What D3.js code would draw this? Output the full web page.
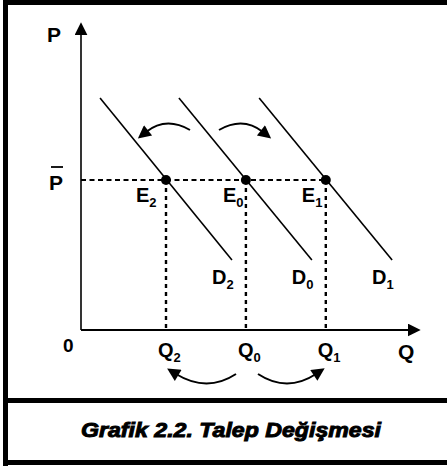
<!DOCTYPE html>
<html>
<head>
<meta charset="utf-8">
<script src="https://cdn.jsdelivr.net/npm/d3@7"></script>
<style>
  body { margin: 0; background: #fff; }
  text { font-family: "Liberation Sans", Arial, sans-serif; font-weight: bold; fill: #000; }
</style>
</head>
<body>
<svg width="447" height="466"></svg>
<script>
// chart data (abstract units, 0..100 on both axes)
var curveNames = ["D2", "D0", "D1"];
var curveStart = [[5.6, 75.3], [28.8, 75.3], [52.4, 75.3]];
var curveEnd = [[44.4, 22.7], [67.9, 22.7], [91.5, 22.7]];
var pointNames = ["E2", "E0", "E1"];
var qNames = ["Q2", "Q0", "Q1"];
var qValues = [25, 48.5, 72];
var pBar = 48.7;
var caption = "Grafik 2.2. Talep Değişmesi";

var svg = d3.select("svg");

// scales
var x = d3.scaleLinear().domain([0, 100]).range([81, 421]);
var y = d3.scaleLinear().domain([0, 100]).range([330, 22]);

// frame
svg.append("path")
  .attr("d", "M5.5,2.5 H447 M5.5,0 V466 M3,400.5 H447 M3,462.5 H447")
  .attr("stroke", "#000").attr("stroke-width", 5).attr("fill", "none");

// arrow markers
var defs = svg.append("defs");
defs.append("marker")
  .attr("id", "axhead").attr("viewBox", "0 0 10 10")
  .attr("refX", 1).attr("refY", 5).attr("markerWidth", 13).attr("markerHeight", 13)
  .attr("markerUnits", "userSpaceOnUse").attr("orient", "auto")
  .append("path").attr("d", "M0,0 L10,5 L0,10 Z").attr("fill", "#000");
defs.append("marker")
  .attr("id", "arc").attr("viewBox", "0 0 10 10")
  .attr("refX", 2).attr("refY", 5).attr("markerWidth", 15).attr("markerHeight", 13)
  .attr("markerUnits", "userSpaceOnUse").attr("orient", "auto")
  .append("path").attr("d", "M0,0 L10,5 L0,10 Z").attr("fill", "#000");

// axes
svg.append("line")
  .attr("x1", x(0)).attr("y1", y(0)).attr("x2", x(0)).attr("y2", y(100) + 12)
  .attr("stroke", "#000").attr("stroke-width", 1.6).attr("marker-end", "url(#axhead)");
svg.append("line")
  .attr("x1", x(0)).attr("y1", y(0)).attr("x2", x(100) - 12).attr("y2", y(0))
  .attr("stroke", "#000").attr("stroke-width", 2.2).attr("marker-end", "url(#axhead)");

// guide lines
svg.append("line")
  .attr("x1", x(0)).attr("y1", y(pBar)).attr("x2", x(qValues[2])).attr("y2", y(pBar))
  .attr("stroke", "#000").attr("stroke-width", 1.8).attr("stroke-dasharray", "5,3.5");
svg.selectAll(".vguide").data(qValues).enter().append("line")
  .attr("x1", d => x(d)).attr("x2", d => x(d))
  .attr("y1", y(pBar)).attr("y2", y(0))
  .attr("stroke", "#000").attr("stroke-width", 2.4).attr("stroke-dasharray", "4,4");

// demand curves
svg.selectAll(".demand").data(curveNames).enter().append("line")
  .attr("x1", (d, i) => x(curveStart[i][0])).attr("y1", (d, i) => y(curveStart[i][1]))
  .attr("x2", (d, i) => x(curveEnd[i][0])).attr("y2", (d, i) => y(curveEnd[i][1]))
  .attr("stroke", "#000").attr("stroke-width", 1.6);

// equilibrium points
svg.selectAll(".eq").data(qValues).enter().append("circle")
  .attr("cx", d => x(d)).attr("cy", y(pBar)).attr("r", 5).attr("fill", "#000");

// label with subscript
function label(txt, px, py, size, subSize) {
  var t = svg.append("text").attr("x", px).attr("y", py).style("font-size", size + "px");
  t.append("tspan").text(txt[0]);
  if (txt.length > 1)
    t.append("tspan").attr("dy", 5).style("font-size", subSize + "px").text(txt.slice(1));
}

var eOff = [-30, -23, -24];
pointNames.forEach((n, i) => label(n, x(qValues[i]) + eOff[i], 202, 20, 13));
curveNames.forEach((n, i) => label(n, x(curveEnd[i][0]) - 20, 284, 20, 13));
qNames.forEach((n, i) => label(n, x(qValues[i]) - 8, 357, 20, 13));
label("Q", 398, 359, 21, 13);
label("0", 63, 352, 19, 13);
label("P", 47, 42, 21, 13);
label("P", 49, 190, 21, 13);
svg.append("line").attr("x1", 51).attr("x2", 63).attr("y1", 167).attr("y2", 167)
  .attr("stroke", "#000").attr("stroke-width", 1.8);

// shift arrows
var arcs = [
  "M190,130 Q166,116 146,132",
  "M219,130 Q243,116 263,132",
  "M236,374 Q207,393 176,374",
  "M258,374 Q287,393 316,374"
];
svg.selectAll(".shift").data(arcs).enter().append("path")
  .attr("d", d => d).attr("fill", "none").attr("stroke", "#000")
  .attr("stroke-width", 2).attr("marker-end", "url(#arc)");

// caption
svg.append("text")
  .attr("x", 231).attr("y", 437).attr("text-anchor", "middle")
  .attr("textLength", 300).attr("lengthAdjust", "spacingAndGlyphs")
  .style("font-size", "21px").style("font-style", "italic")
  .attr("stroke", "#000").attr("stroke-width", 1)
  .text(caption);
</script>
</body>
</html>
